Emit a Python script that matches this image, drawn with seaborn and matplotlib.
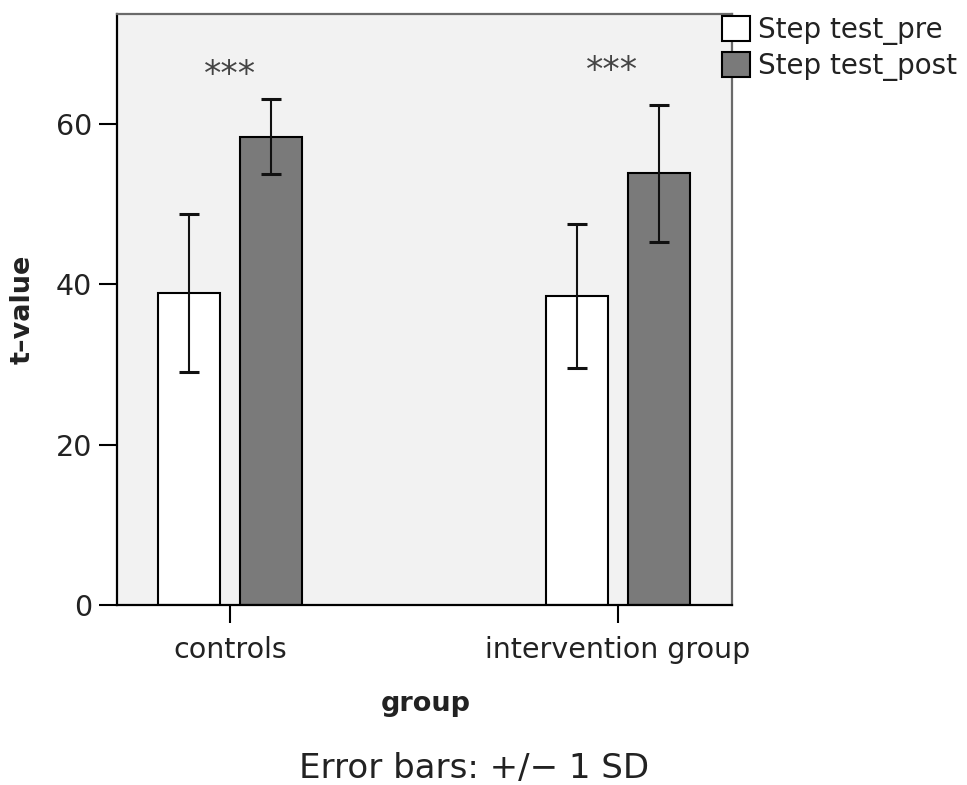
import matplotlib
matplotlib.use("Agg")
import matplotlib.pyplot as plt
from matplotlib.container import BarContainer
import seaborn as sns
import pandas as pd
import numpy as np

# ---- data ----
groups = ["controls", "intervention group"]
tests = ["Step test_pre", "Step test_post"]
pre_means = [38.9, 38.5]
post_means = [58.4, 53.85]
pre_sd = [9.8, 9.0]
post_sd = [4.7, 8.55]
sig_labels = ["***", "***"]
sig_y = [64.8, 65.4]
yticks = [0, 20, 40, 60]

df = pd.DataFrame({
    "group": groups * 2,
    "test": [tests[0]] * 2 + [tests[1]] * 2,
    "value": pre_means + post_means,
    "sd": pre_sd + post_sd,
})

sns.set_theme(style="white")
plt.rcParams["font.family"] = ["DejaVu Sans"]

fig = plt.figure(figsize=(9.67, 7.85), dpi=100)
ax = fig.add_axes([117/967, 1-605/785, (732-117)/967, (605-14)/785])
ax.set_facecolor("#f2f2f2")

sns.barplot(data=df, x="group", y="value", hue="test", order=groups,
            hue_order=tests, palette=["#ffffff", "#7a7a7a"], width=0.424,
            gap=0.245, errorbar=None, edgecolor="black", linewidth=1.5,
            ax=ax, legend=False)

bar_conts = [c for c in ax.containers if isinstance(c, BarContainer)]

# error bars (+/- 1 SD)
sds = [pre_sd, post_sd]
means = [pre_means, post_means]
for ci, cont in enumerate(bar_conts):
    xs = [p.get_x() + p.get_width() / 2 for p in cont.patches]
    ax.errorbar(xs, means[ci], yerr=sds[ci], fmt="none", ecolor="#111111",
                elinewidth=1.5, capsize=7.0, capthick=2.2, zorder=5)

# significance markers
sig_dx = [0.0, -0.015]
for i, (lab, yy) in enumerate(zip(sig_labels, sig_y)):
    ax.text(i + sig_dx[i], yy, lab, ha="center", va="baseline", fontsize=25,
            color="#444444")

ax.set_xlim(-0.291, 1.294)
ax.set_ylim(0, 73.7)
ax.set_yticks(yticks)
ax.set_yticklabels([str(t) for t in yticks])
ax.tick_params(axis="both", direction="out", length=13, width=1.5,
               color="black", labelsize=20.5, labelcolor="#222222",
               bottom=True, left=True)
ax.tick_params(axis="y", pad=5)
ax.tick_params(axis="x", pad=9)

for s in ["left", "bottom"]:
    ax.spines[s].set_color("black")
    ax.spines[s].set_linewidth(1.6)
for s in ["top", "right"]:
    ax.spines[s].set_color("#6a6a6a")
    ax.spines[s].set_linewidth(1.6)

ax.set_xlabel("group", fontsize=19.5, fontweight="bold", color="#222222")
ax.set_ylabel("t–value", fontsize=19.5, fontweight="bold", color="#222222")
ax.xaxis.set_label_coords(0.502, -0.146)
ax.yaxis.set_label_coords(-0.132, 0.50)

# legend from bar containers
handles = [bar_conts[0].patches[0], bar_conts[1].patches[0]]
leg = fig.legend(handles, tests, loc="upper left",
                 bbox_to_anchor=(722/967, 1-16/785), frameon=False,
                 fontsize=20, handlelength=1.0, handleheight=1.0,
                 handletextpad=0.3, labelspacing=0.25, borderpad=0,
                 borderaxespad=0)
for t in leg.get_texts():
    t.set_color("#222222")

fig.text(474/967, 1-778/785, "Error bars: +/− 1 SD", ha="center",
         va="baseline", fontsize=24.5, color="#222222")

fig.savefig("out.png", dpi=100)
